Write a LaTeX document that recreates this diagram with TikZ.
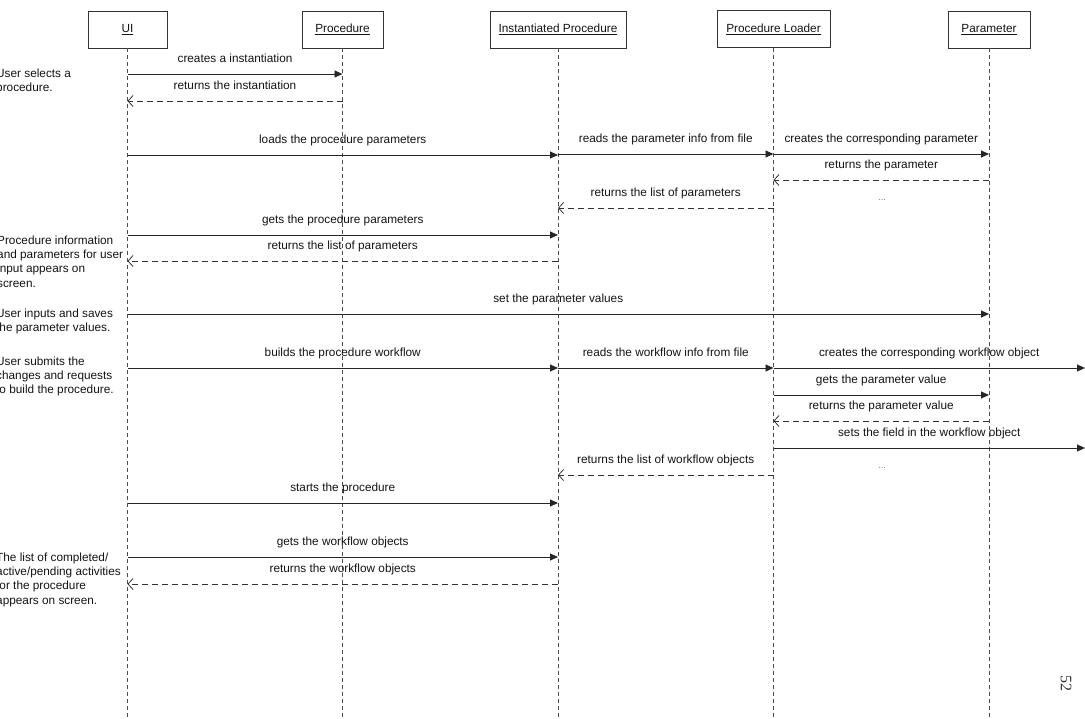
\documentclass[tikz,border=0pt]{standalone}
\usepackage{fontspec}
\setmainfont{Liberation Sans}
\newfontfamily\pgnumfont{Liberation Serif}
\usetikzlibrary{arrows.meta}
\newcommand\seqmsg[5]{\draw[#5] (#1 |- 0,#3) -- node[lbl]{#4} (#2 |- 0,#3);}
\begin{document}
\begin{tikzpicture}[x=1pt,y=-1pt,
  every node/.style={font=\fontsize{11.8}{14.3}\selectfont, text=black!92},
  obj/.style={draw=black!80, line width=0.8pt, minimum height=37pt, inner sep=0pt},
  life/.style={draw=black!70, line width=0.7pt, dash pattern=on 4pt off 3pt},
  call/.style={draw=black!85, line width=0.9pt, -{Triangle[length=8pt,width=7pt]}},
  ret/.style={draw=black!80, line width=0.8pt, dash pattern=on 6pt off 4pt, -{Straight Barb[length=5pt,width=11pt]}},
  lbl/.style={anchor=base, inner sep=0pt, yshift=12pt},
  note/.style={anchor=north west, align=left, inner sep=0pt},
  dots/.style={font=\fontsize{9}{9}\selectfont, text=black!55, inner sep=0pt}]
\useasboundingbox (0,0) rectangle (1085,718);
\fill[white] (0,0) rectangle (1085,718);
% objects
\node[obj, minimum width=79pt]  (ui)   at (127.5,29.5) {\underline{UI}};
\node[obj, minimum width=81pt]  (proc) at (342.5,29.5) {\underline{Procedure}};
\node[obj, minimum width=136pt] (ip)   at (558,29.5)   {\underline{Instantiated Procedure}};
\node[obj, minimum width=113pt] (pl)   at (773.5,29)   {\underline{Procedure Loader}};
\node[obj, minimum width=82pt]  (par)  at (989,29.5)   {\underline{Parameter}};
\coordinate (redge) at (1085,0);
% lifelines
\foreach \o in {ui,proc,ip,pl,par}{\draw[life] (\o.south) -- (\o.south |- 0,720);}
% messages
\seqmsg{ui}{proc}{74}{creates a instantiation}{call}
\seqmsg{proc}{ui}{101}{returns the instantiation}{ret}
\seqmsg{ui}{ip}{155}{loads the procedure parameters}{call}
\seqmsg{ip}{pl}{154}{reads the parameter info from file}{call}
\seqmsg{pl}{par}{154}{creates the corresponding parameter}{call}
\seqmsg{par}{pl}{180}{returns the parameter}{ret}
\seqmsg{pl}{ip}{208}{returns the list of parameters}{ret}
\seqmsg{ui}{ip}{235}{gets the procedure parameters}{call}
\seqmsg{ip}{ui}{261}{returns the list of parameters}{ret}
\seqmsg{ui}{par}{314}{set the parameter values}{call}
\seqmsg{ui}{ip}{368}{builds the procedure workflow}{call}
\seqmsg{ip}{pl}{368}{reads the workflow info from file}{call}
\seqmsg{pl}{redge}{368}{creates the corresponding workflow object}{call}
\seqmsg{pl}{par}{395}{gets the parameter value}{call}
\seqmsg{par}{pl}{421}{returns the parameter value}{ret}
\seqmsg{pl}{redge}{448}{sets the field in the workflow object}{call}
\seqmsg{pl}{ip}{475}{returns the list of workflow objects}{ret}
\seqmsg{ui}{ip}{503}{starts the procedure}{call}
\seqmsg{ui}{ip}{557}{gets the workflow objects}{call}
\seqmsg{ip}{ui}{584}{returns the workflow objects}{ret}
\node[dots] (d1) at (882,200) {...};
\node[dots] (d2) at (882,468) {...};
% notes
\node[note] (n1) at (-4,68.5) {User selects a\\procedure.};
\node[note] (n2) at (-3,235.5) {Procedure information\\and parameters for user\\input appears on\\screen.};
\node[note] (n3) at (-4,308.5) {User inputs and saves\\the parameter values.};
\node[note] (n4) at (-4,356.5) {User submits the\\changes and requests\\to build the procedure.};
\node[note] (n5) at (-4,552.5) {The list of completed/\\active/pending activities\\for the procedure\\appears on screen.};
% page number
\node[rotate=-90, font=\pgnumfont\fontsize{16}{16}\selectfont, text=black!80] (pg) at (1066,683) {52};
\end{tikzpicture}
\end{document}
